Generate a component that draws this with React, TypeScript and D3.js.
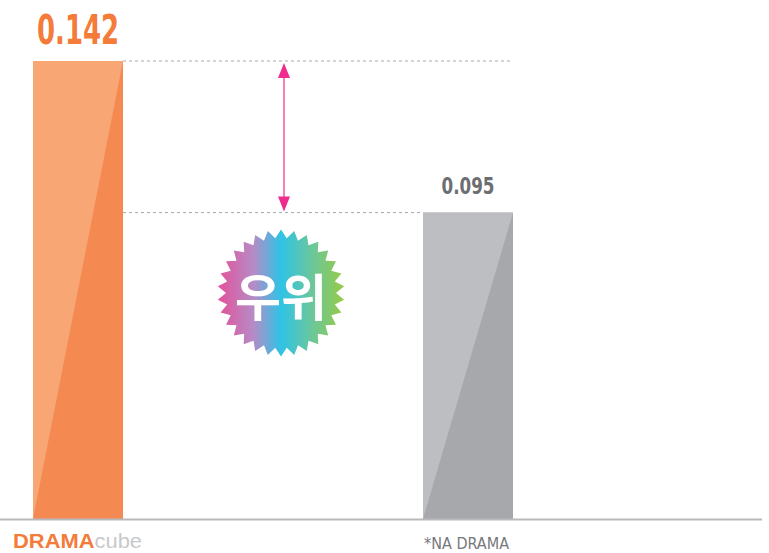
import React from "react";
import * as d3 from "d3";

const categories = ["DRAMAcube", "NA DRAMA"];
const values = [0.142, 0.095];
const valueLabels = ["0.142", "0.095"];

const W = 769;
const H = 553;

export default function App() {
  const baseY = 519;
  const x = d3
    .scaleBand<string>()
    .domain(categories)
    .range([33, 513])
    .paddingInner(300 / 390)
    .paddingOuter(0);
  const y = d3.scaleLinear().domain([0, 0.142]).range([baseY, 61]);

  const colors = [
    { light: "#F7A674", dark: "#F48A52" },
    { light: "#BDBEC1", dark: "#A6A8AB" },
  ];

  const bw = x.bandwidth();
  const x0 = x(categories[0])!;
  const x1 = x(categories[1])!;
  const yTop0 = y(values[0]);
  const yTop1 = y(values[1]);
  const arrowX = 284;

  // starburst
  const cx = 281, cy = 293, rOut = 63.5, rIn = 55, nPts = 30;
  const starPts: [number, number][] = [];
  for (let i = 0; i < nPts * 2; i++) {
    const a = (i * Math.PI) / nPts - Math.PI / 2;
    const r = i % 2 === 0 ? rOut : rIn;
    starPts.push([cx + r * Math.cos(a), cy + r * Math.sin(a)]);
  }
  const starPath = d3.line()(starPts) + "Z";

  return (
    <svg
      width={W}
      height={H}
      style={{ position: "absolute", left: 0, top: 0, background: "#fff" }}
    >
      <defs>
        <linearGradient id="burst" x1="0" x2="1" y1="0" y2="0">
          <stop offset="0" stopColor="#E4519A" />
          <stop offset="0.28" stopColor="#B68BC6" />
          <stop offset="0.5" stopColor="#2FC3E6" />
          <stop offset="0.75" stopColor="#6CC79A" />
          <stop offset="1" stopColor="#96CB45" />
        </linearGradient>
      </defs>

      {/* dashed reference lines */}
      <line x1={x0 + bw} x2={x1 + bw} y1={yTop0} y2={yTop0} stroke="#A8A8A8" strokeWidth={1} strokeDasharray="3,3" />
      <line x1={x0 + bw} x2={x1} y1={yTop1} y2={yTop1} stroke="#A8A8A8" strokeWidth={1} strokeDasharray="3,3" />

      {/* bars */}
      {categories.map((c, i) => {
        const bx = x(c)!;
        const by = y(values[i]);
        return (
          <g key={c}>
            <rect x={bx} y={by} width={bw} height={baseY - by} fill={colors[i].dark} />
            <path
              d={`M${bx},${baseY}L${bx},${by}L${bx + bw},${by}Z`}
              fill={colors[i].light}
            />
          </g>
        );
      })}

      {/* baseline */}
      <line x1={0} x2={762} y1={baseY + 0.5} y2={baseY + 0.5} stroke="#B9B9BD" strokeWidth={2} />

      {/* arrow */}
      <line x1={arrowX} x2={arrowX} y1={yTop0 + 12} y2={yTop1 - 12} stroke="#F67FB6" strokeWidth={2} />
      <path d={`M${arrowX},${yTop0 + 2}L${arrowX - 6},${yTop0 + 17}L${arrowX + 6},${yTop0 + 17}Z`} fill="#EF2B8D" />
      <path d={`M${arrowX},${yTop1 - 1}L${arrowX - 6},${yTop1 - 16}L${arrowX + 6},${yTop1 - 16}Z`} fill="#EF2B8D" />

      {/* value labels */}
      <text
        x={x0 + 4}
        y={44}
        fontFamily="'DejaVu Sans Condensed', 'DejaVu Sans', sans-serif"
        fontWeight="bold"
        fontSize={40}
        fill="#F47B3A"
        textLength={82}
        lengthAdjust="spacingAndGlyphs"
      >
        {valueLabels[0]}
      </text>
      <text
        x={x1 + bw / 2}
        y={194}
        textAnchor="middle"
        fontFamily="'DejaVu Sans Condensed', 'DejaVu Sans', sans-serif"
        fontWeight="bold"
        fontSize={23}
        fill="#6D6E71"
        textLength={53}
        lengthAdjust="spacingAndGlyphs"
      >
        {valueLabels[1]}
      </text>

      {/* starburst */}
      <path d={starPath} fill="url(#burst)" />
      <text
        x={cx}
        y={316}
        textAnchor="middle"
        fontFamily="'Noto Sans CJK KR', sans-serif"
        fontWeight="bold"
        fontSize={50}
        fill="#fff"
      >
        우위
      </text>

      {/* category labels */}
      <text
        x={13}
        y={548}
        fontFamily="'Liberation Sans', Arial, sans-serif"
        fontSize={21}
        textLength={129}
        lengthAdjust="spacingAndGlyphs"
      >
        <tspan fill="#F47B3A" fontWeight="bold">DRAMA</tspan>
        <tspan fill="#C9C9CB">cube</tspan>
      </text>
      <text
        x={424}
        y={549}
        fontFamily="'DejaVu Sans Condensed', 'DejaVu Sans', sans-serif"
        fontSize={16}
        fill="#77787B"
        textLength={85}
        lengthAdjust="spacingAndGlyphs"
      >
        *{categories[1]}
      </text>
    </svg>
  );
}
